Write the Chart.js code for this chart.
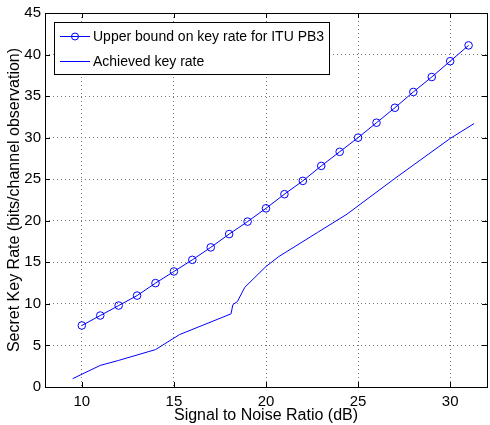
<!DOCTYPE html>
<html>
<head>
<meta charset="utf-8">
<script src="https://cdn.jsdelivr.net/npm/chart.js@4/dist/chart.umd.min.js"></script>
<style>
  html, body { margin: 0; padding: 0; background: #fff; overflow: hidden; }
  #wrap { width: 492px; height: 425px; }
</style>
</head>
<body>
<div id="wrap"><canvas id="keyChart" width="492" height="425"></canvas></div>
<script>
// upper bound, one marker per dB
const snrBound = [10, 11, 12, 13, 14, 15, 16, 17, 18, 19, 20, 21, 22, 23, 24, 25, 26, 27, 28, 29, 30, 31];
const rateBound = [7.4, 8.6, 9.8, 11.0, 12.5, 13.9, 15.3, 16.8, 18.4, 19.9, 21.5, 23.2, 24.8, 26.6, 28.3, 30.0, 31.8, 33.6, 35.5, 37.3, 39.2, 41.1];

// achieved key rate
const snrAchieved = [9.5, 11, 12, 14, 15.3, 18.1, 18.2, 18.45, 18.85, 20, 20.7, 22.8, 24.4, 27, 30, 31.3];
const rateAchieved = [1.0, 2.6, 3.2, 4.5, 6.3, 8.8, 9.9, 10.3, 12.0, 14.5, 15.7, 18.6, 20.8, 25.1, 29.9, 31.7];

const xTicks = [10, 15, 20, 25, 30];
const yTicks = [0, 5, 10, 15, 20, 25, 30, 35, 40, 45];

const legendLabels = ['Upper bound on key rate for ITU PB3', 'Achieved key rate'];

const FONT = 'Liberation Sans, Arial, Helvetica, sans-serif';

// matlab style inward ticks + boxed legend
const matlabBits = {
    id: 'matlabBits',
    afterDraw(chart) {
        const c = chart.ctx;
        const a = chart.chartArea;
        const xs = chart.scales.x, ys = chart.scales.y;
        c.save();
        c.strokeStyle = '#000';
        c.lineWidth = 1;
        c.beginPath();
        xTicks.forEach(v => {
            const px = Math.round(xs.getPixelForValue(v)) + 0.5;
            c.moveTo(px, a.bottom); c.lineTo(px, a.bottom - 5);
            c.moveTo(px, a.top); c.lineTo(px, a.top + 5);
        });
        yTicks.forEach(v => {
            const py = Math.round(ys.getPixelForValue(v)) + 0.5;
            c.moveTo(a.left, py); c.lineTo(a.left + 5, py);
            c.moveTo(a.right, py); c.lineTo(a.right - 5, py);
        });
        c.stroke();

        // frame
        c.strokeRect(Math.round(a.left) + 0.5, Math.round(a.top) + 0.5,
                     Math.round(a.right - a.left), Math.round(a.bottom - a.top));

        // legend box
        const bx = 54.5, by = 22.5, bw = 275, bh = 52;
        c.fillStyle = '#fff';
        c.fillRect(bx, by, bw, bh);
        c.strokeRect(bx, by, bw, bh);
        c.strokeStyle = '#0000ff';
        c.beginPath();
        c.moveTo(60, 36.5); c.lineTo(90, 36.5);
        c.moveTo(60, 61.5); c.lineTo(90, 61.5);
        c.stroke();
        c.beginPath();
        c.arc(75, 36.5, 3.5, 0, Math.PI * 2);
        c.stroke();
        c.fillStyle = '#000';
        c.font = '14px ' + FONT;
        c.textBaseline = 'middle';
        c.fillText(legendLabels[0], 93, 37);
        c.fillText(legendLabels[1], 93, 62);
        c.restore();
    }
};

const ctx = document.getElementById('keyChart').getContext('2d');
new Chart(ctx, {
    type: 'scatter',
    data: {
        datasets: [
            {
                label: legendLabels[0],
                data: snrBound.map((x, i) => ({ x: x, y: rateBound[i] })),
                showLine: true,
                borderColor: '#0000ff',
                borderWidth: 1,
                pointStyle: 'circle',
                pointRadius: 3.8,
                pointBorderColor: '#0000ff',
                pointBackgroundColor: 'rgba(0,0,0,0)',
                pointBorderWidth: 1
            },
            {
                label: legendLabels[1],
                data: snrAchieved.map((x, i) => ({ x: x, y: rateAchieved[i] })),
                showLine: true,
                borderColor: '#0000ff',
                borderWidth: 1,
                pointRadius: 0
            }
        ]
    },
    options: {
        responsive: false,
        animation: false,
        events: [],
        layout: { padding: { top: 11, right: 1, left: 5, bottom: 0 } },
        plugins: {
            legend: { display: false },
            tooltip: { enabled: false }
        },
        scales: {
            x: {
                type: 'linear',
                min: 8,
                max: 32,
                afterBuildTicks: s => { s.ticks = xTicks.map(v => ({ value: v })); },
                afterFit: s => { s.height = 38; },
                ticks: {
                    color: '#000',
                    font: { family: FONT, size: 15 },
                    padding: 6,
                    maxRotation: 0
                },
                grid: {
                    color: '#777',
                    lineWidth: 1,
                    drawTicks: false
                },
                border: { display: false, dash: [1, 3] },
                title: {
                    display: true,
                    text: 'Signal to Noise Ratio (dB)',
                    color: '#000',
                    font: { family: FONT, size: 16 },
                    padding: { top: 0, bottom: 0 }
                }
            },
            y: {
                type: 'linear',
                min: 0,
                max: 45,
                afterBuildTicks: s => { s.ticks = yTicks.map(v => ({ value: v })); },
                afterFit: s => { s.width = 40; },
                ticks: {
                    color: '#000',
                    font: { family: FONT, size: 15 },
                    padding: 4
                },
                grid: {
                    color: '#777',
                    lineWidth: 1,
                    drawTicks: false
                },
                border: { display: false, dash: [1, 3] },
                title: {
                    display: true,
                    text: 'Secret Key Rate (bits/channel observation)',
                    color: '#000',
                    font: { family: FONT, size: 16 },
                    padding: { top: 0, bottom: 0 }
                }
            }
        }
    },
    plugins: [matlabBits]
});
</script>
</body>
</html>
